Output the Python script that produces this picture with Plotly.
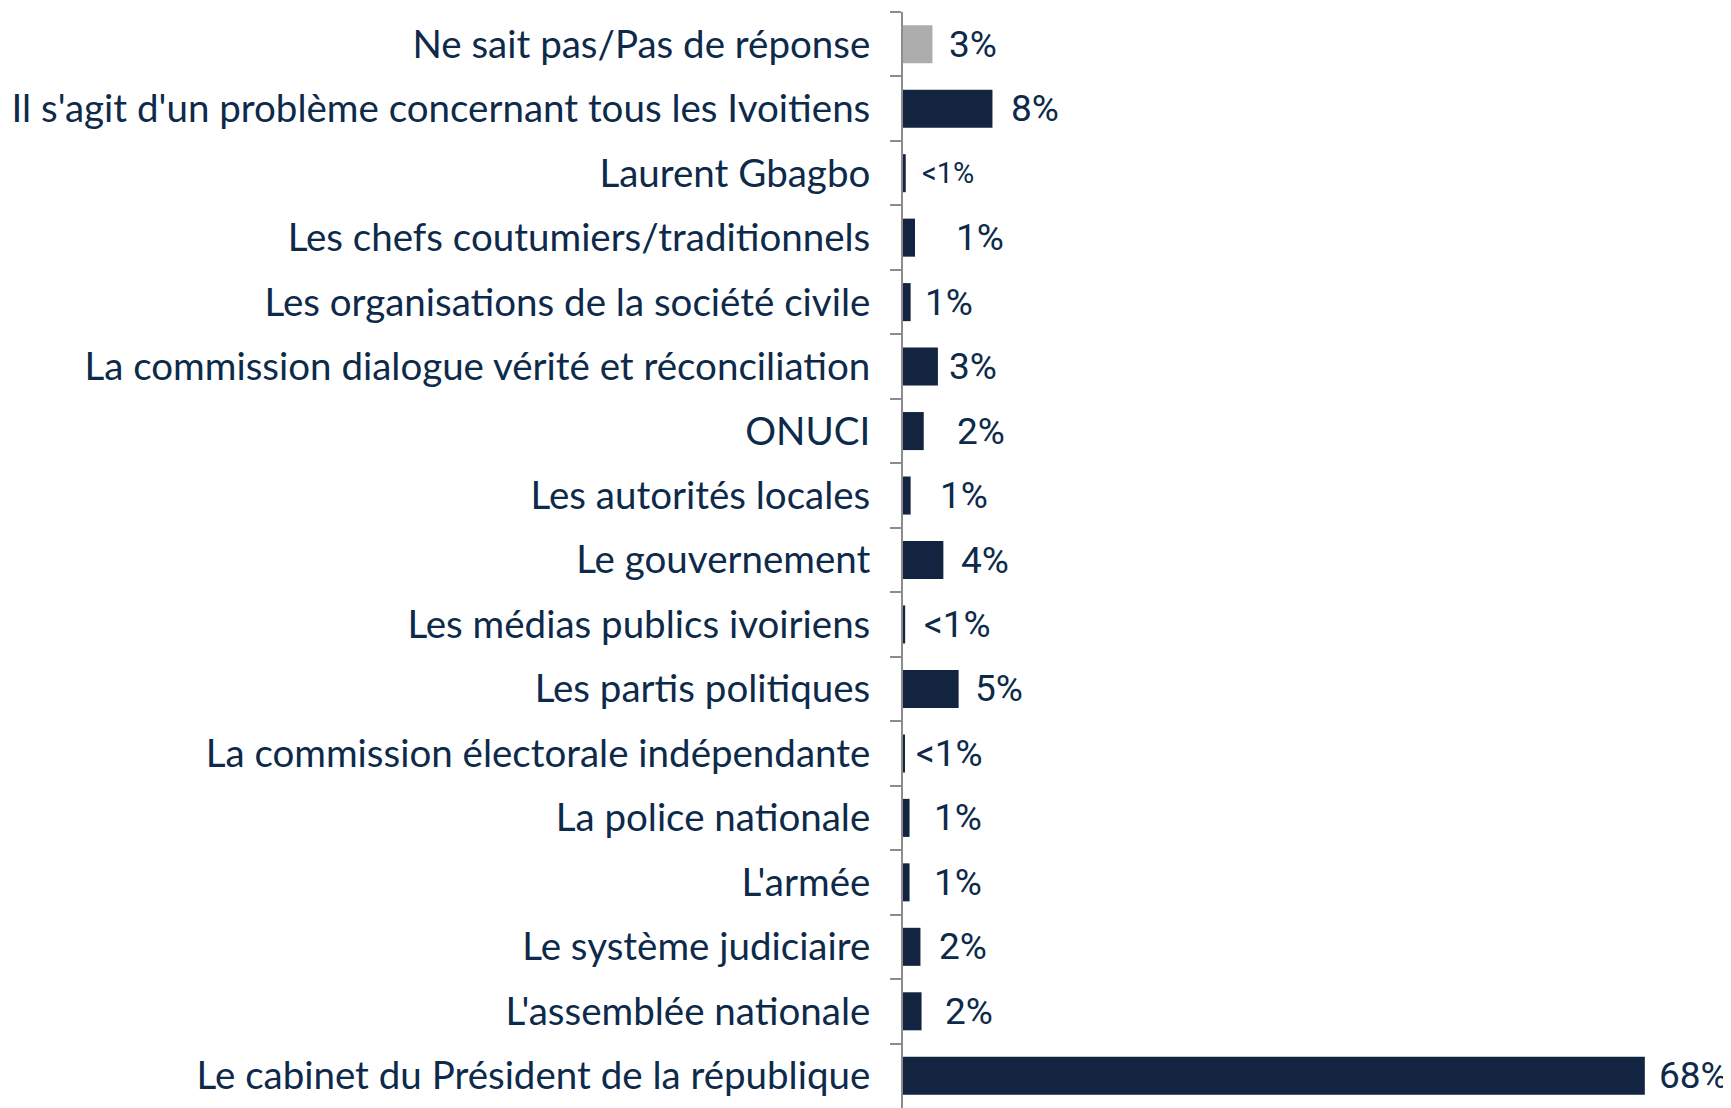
import plotly.graph_objects as go

categories = [
    "Ne sait pas/Pas de réponse",
    "Il s'agit d'un problème concernant tous les Ivoitiens",
    "Laurent Gbagbo",
    "Les chefs coutumiers/traditionnels",
    "Les organisations de la société civile",
    "La commission dialogue vérité et réconciliation",
    "ONUCI",
    "Les autorités locales",
    "Le gouvernement",
    "Les médias publics ivoiriens",
    "Les partis politiques",
    "La commission électorale indépendante",
    "La police nationale",
    "L'armée",
    "Le système judiciaire",
    "L'assemblée nationale",
    "Le cabinet du Président de la république",
]
values = [2.7, 8.2, 0.25, 1.1, 0.7, 3.2, 1.9, 0.7, 3.7, 0.2, 5.1, 0.1, 0.6, 0.6, 1.6, 1.7, 68.0]
value_labels = ["3%", "8%", "<1%", "1%", "1%", "3%", "2%", "1%", "4%", "<1%", "5%", "<1%", "1%", "1%", "2%", "2%", "68%"]

# styling (not data)
bar_colors = ["#ADADAD"] + ["#12243F"] * 16
label_xshift = [15, 17, 14, 39, 12, 9, 31, 27, 16, 17, 14, 10, 22, 22, 17, 21, 12]
label_sizes = [37] * 17
label_sizes[2] = 29

fig = go.Figure()
fig.add_trace(go.Bar(
    y=categories, x=values, orientation="h",
    marker=dict(color=bar_colors, line=dict(width=0)),
    hoverinfo="skip",
))

for cat, v, lab, dx, fs in zip(categories, values, value_labels, label_xshift, label_sizes):
    fig.add_annotation(
        x=v, y=cat, text=lab, showarrow=False, xanchor="left", yanchor="middle",
        xshift=dx, font=dict(family="Liberation Sans Narrow, Roboto", size=fs, color="#0E2A4A"),
    )

# page body has an 8px default margin, so the figure is offset by 8px
fig.update_layout(
    width=1723, height=1100,
    margin=dict(l=895, r=0, t=4, b=0),
    paper_bgcolor="white", plot_bgcolor="white",
    bargap=0.41, showlegend=False,
)
fig.update_xaxes(range=[0, 75.9], visible=False)
fig.update_yaxes(
    autorange="reversed", type="category",
    showline=True, linecolor="#8C8C8C", linewidth=2,
    ticks="outside", tickson="boundaries", ticklen=11, tickcolor="#8C8C8C", tickwidth=2,
    showgrid=False,
    tickfont=dict(family="Lato", size=38.5, color="#0E2A4A"),
    ticklabelstandoff=23,
)

fig.write_html("out.html")
